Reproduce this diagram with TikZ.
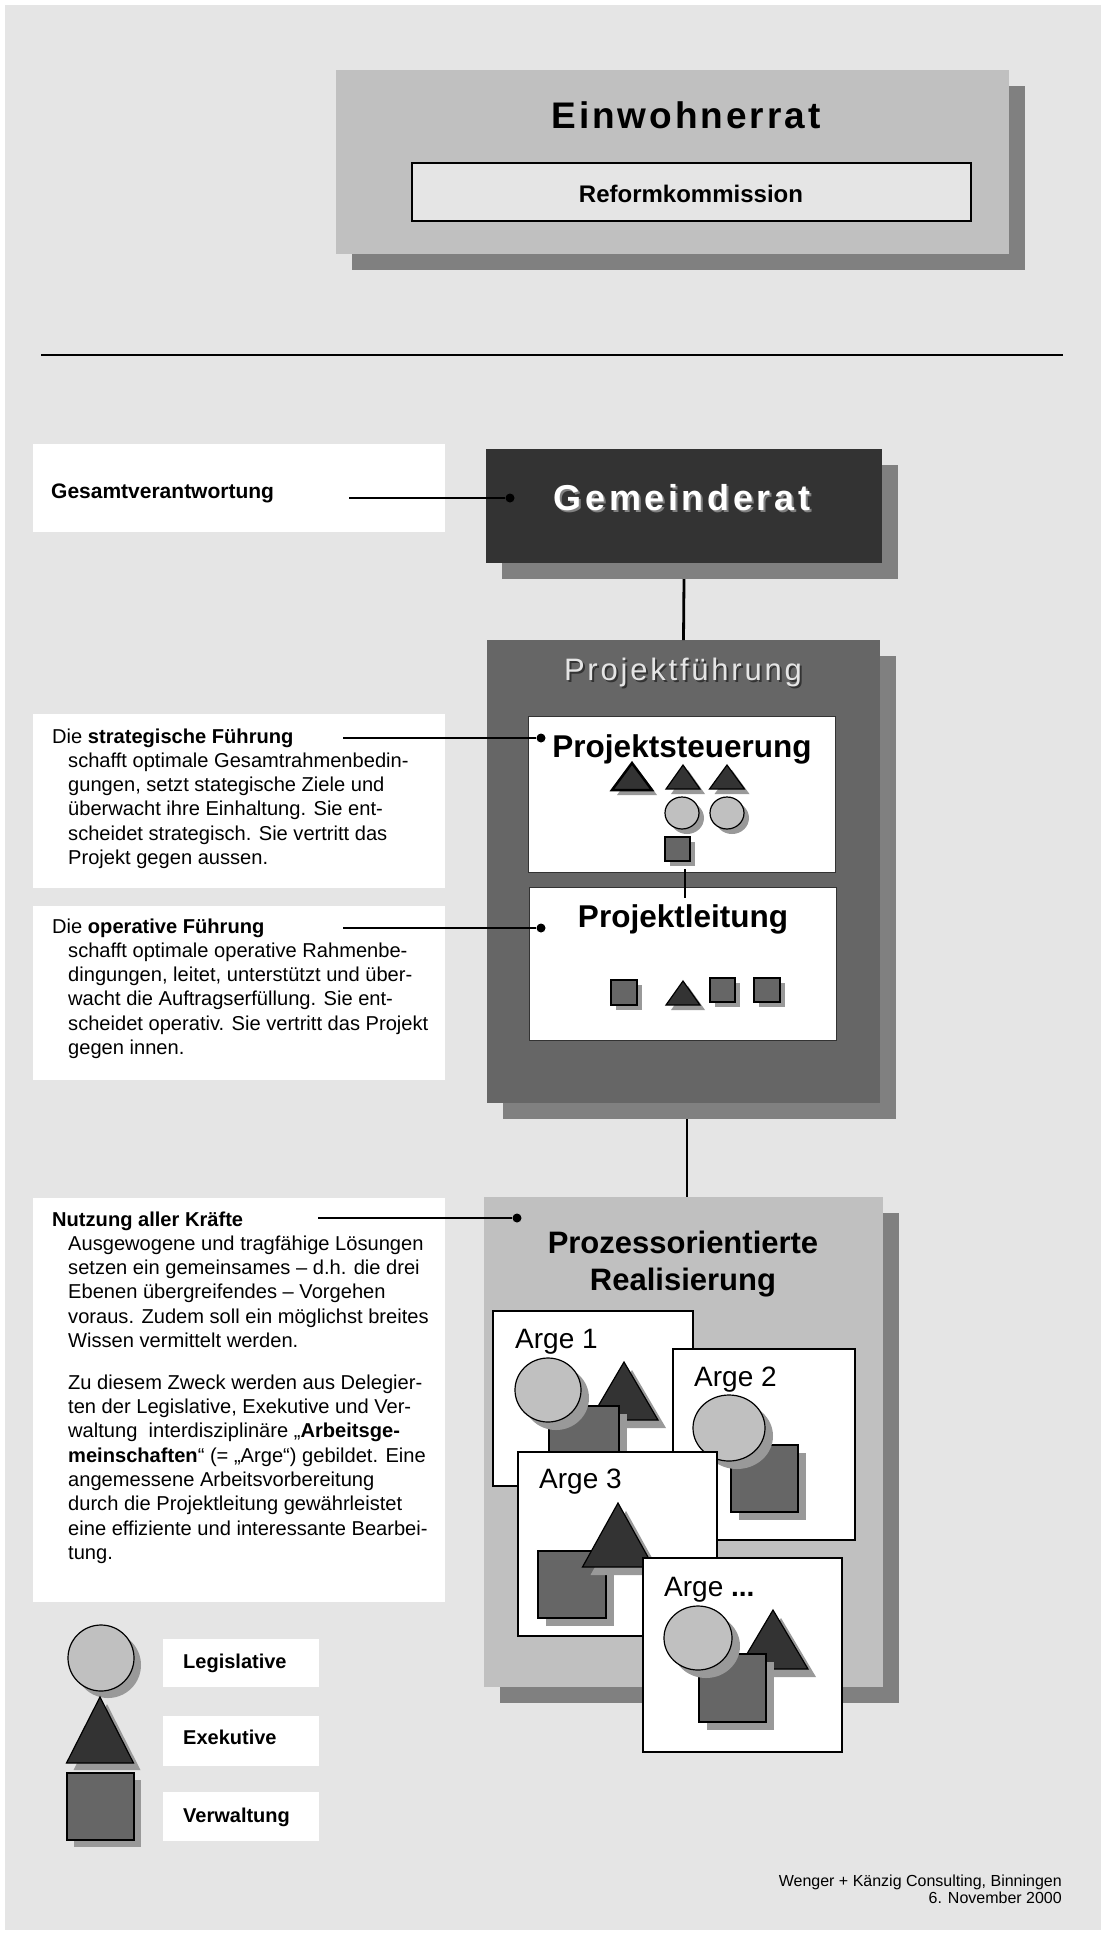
\documentclass[tikz,border=0pt]{standalone}
\usepackage{fontspec}
\setmainfont{Liberation Sans}
\usetikzlibrary{calc,shadows}

\definecolor{pagegray}{gray}{0.9}
\definecolor{boxshadow}{gray}{0.5}
\definecolor{lightbox}{gray}{0.753}
\definecolor{midbox}{gray}{0.4}
\definecolor{darkbox}{gray}{0.2}
\definecolor{iconshadow}{gray}{0.6}

\newcommand{\versatz}{6}
% Legislative
\newcommand{\kreis}[4]{%
  \fill[iconshadow] (#1+\versatz,#2+\versatz) ellipse [x radius=#3pt, y radius=#4pt];
  \draw[icon line,fill=lightbox] (#1,#2) ellipse [x radius=#3pt, y radius=#4pt];}
% Exekutive (Spitze, halbe Breite, Hoehe)
\newcommand{\dreieck}[4]{%
  \fill[iconshadow] (#1+\versatz,#2+\versatz) -- ++(#3,#4) -- ++(-2*#3,0) -- cycle;
  \draw[icon line,fill=darkbox] (#1,#2) -- ++(#3,#4) -- ++(-2*#3,0) -- cycle;}
% Verwaltung
\newcommand{\quadrat}[4]{%
  \fill[iconshadow] (#1+\versatz,#2+\versatz) rectangle (#3+\versatz,#4+\versatz);
  \draw[icon line,fill=midbox] (#1,#2) rectangle (#3,#4);}

\begin{document}
\begin{tikzpicture}[x=1pt,y=-1pt,
    plain box/.style={inner sep=0pt,outer sep=0pt},
    shadowed/.style={drop shadow={shadow xshift=16pt,shadow yshift=-16pt,fill=boxshadow,opacity=1}},
    info box/.style={plain box,fill=white,minimum width=412pt},
    label box/.style={plain box,fill=white,minimum width=156pt},
    arge box/.style={plain box,fill=white,draw=black,line width=1.5pt},
    inner box/.style={plain box,fill=white,draw=darkbox,line width=1pt,minimum width=307pt},
    info text/.style={anchor=base west,inner sep=0pt,font=\fontsize{20.1}{24.3}\selectfont},
    arge text/.style={anchor=base west,inner sep=0pt,font=\fontsize{28}{34}\selectfont},
    heading/.style={anchor=base,inner sep=0pt},
    leader dot/.style={circle,fill=black,inner sep=0pt,minimum size=9pt},
    leader/.style={line width=1.3pt},
    link/.style={line width=2.8pt},
    icon line/.style={draw=black,line width=1.2pt}]

	\useasboundingbox (0,0) rectangle (1107,1936);
	\fill[white] (0,0) rectangle (1107,1936);
	\fill[pagegray] (5,5) rectangle (1101,1930);

	% Einwohnerrat
	\node[plain box,shadowed,fill=lightbox,minimum width=673pt,minimum height=184pt] (einwohnerrat) at (672.5,162) {};
	\node[plain box,fill=pagegray,draw=black,line width=1.5pt,minimum width=559pt,minimum height=58pt] (reform) at (691.5,192) {};
	\node[heading,font=\fontsize{37}{44}\selectfont\bfseries\addfontfeatures{LetterSpace=8}] (einwohnerratTitle) at (686,128) {Einwohnerrat};
	\node[heading,font=\fontsize{24}{29}\selectfont\bfseries] (reformTitle) at (691,202) {Reformkommission};

	\coordinate (sepL) at (41,355);
	\coordinate (sepR) at (1063,355);
	\draw[line width=1.5pt] (sepL) -- (sepR);

	% Gemeinderat
	\node[info box,minimum height=88pt] (gesamt) at (239,488) {};
	\node[info text,font=\fontsize{21}{25}\selectfont\bfseries] (gesamtText) at (51,498) {Gesamtverantwortung};
	\node[plain box,shadowed,fill=darkbox,minimum width=396pt,minimum height=114pt] (gemeinderat) at (684,506) {};
	\node[heading,text=boxshadow,font=\fontsize{36}{43}\selectfont\bfseries\addfontfeatures{LetterSpace=10}] (gemeinderatShadow) at (684,512) {Gemeinderat};
	\node[heading,text=white,font=\fontsize{36}{43}\selectfont\bfseries\addfontfeatures{LetterSpace=10}] (gemeinderatTitle) at (682,510) {Gemeinderat};
	\coordinate (gesamtStart) at (349,498);
	\node[leader dot] (gesamtDot) at (510,498) {};
	\draw[leader] (gesamtStart) -- (gesamtDot);

	% Projektfuehrung
	\node[plain box,shadowed,fill=midbox,minimum width=393pt,minimum height=463pt] (fuehrung) at (683.5,871.5) {};
	\node[heading,text=darkbox,font=\fontsize{31}{37}\selectfont\addfontfeatures{LetterSpace=9}] (fuehrungShadow) at (685,682) {Projektführung};
	\node[heading,text=pagegray,font=\fontsize{31}{37}\selectfont\addfontfeatures{LetterSpace=9}] (fuehrungTitle) at (683,680) {Projektführung};
	\draw[link] ($(gemeinderat.south)+(0,16)$) -- (fuehrung.north);

	\node[inner box,minimum height=156pt] (steuerung) at (681.5,794) {};
	\node[heading,font=\fontsize{31.5}{37}\selectfont\bfseries] (steuerungTitle) at (682,757) {Projektsteuerung};
	\node[inner box,minimum height=153pt] (leitung) at (682.5,963.5) {};
	\node[heading,font=\fontsize{31.5}{37}\selectfont\bfseries] (leitungTitle) at (683,927) {Projektleitung};
	\draw[link] ($(steuerung.south)+(3.5,-3)$) -- ($(leitung.north)+(2.5,11)$);

	\renewcommand{\versatz}{5}
	\begin{scope}[icon line/.append style={line width=2.5pt}]
		\dreieck{632}{763}{20}{27}
	\end{scope}
	\dreieck{683}{765}{17}{24}
	\dreieck{727}{765}{17.5}{24}
	\kreis{682}{813}{17}{16}
	\kreis{727}{813}{17}{16}
	\quadrat{665}{837}{690}{861}
	\quadrat{611}{980}{637}{1005}
	\dreieck{683}{981}{17}{24}
	\quadrat{710}{978}{735}{1002}
	\quadrat{754}{978}{780}{1002}

	% Fuehrung links
	\node[info box,minimum height=174pt] (strategisch) at (239,801) {};
	\node[info text] (strategischText) at (52,743) {\parbox[t]{400pt}{\raggedright\leftskip=16pt\hspace*{-16pt}Die \textbf{strategische Führung}\\
		schafft optimale Gesamtrahmenbedin-\\
		gungen, setzt stategische Ziele und\\
		überwacht ihre Einhaltung. Sie ent-\\
		scheidet strategisch. Sie vertritt das\\
		Projekt gegen aussen.}};
	\coordinate (strategischStart) at (343,738);
	\node[leader dot] (steuerungDot) at (541,738) {};
	\draw[leader] (strategischStart) -- (steuerungDot);

	\node[info box,minimum height=174pt] (operativ) at (239,993) {};
	\node[info text] (operativText) at (52,933) {\parbox[t]{400pt}{\raggedright\leftskip=16pt\hspace*{-16pt}Die \textbf{operative Führung}\\
		schafft optimale operative Rahmenbe-\\
		dingungen, leitet, unterstützt und über-\\
		wacht die Auftragserfüllung. Sie ent-\\
		scheidet operativ. Sie vertritt das Projekt\\
		gegen innen.}};
	\coordinate (operativStart) at (343,928);
	\node[leader dot] (leitungDot) at (541,928) {};
	\draw[leader] (operativStart) -- (leitungDot);

	% Realisierung
	\node[plain box,shadowed,fill=lightbox,minimum width=399pt,minimum height=490pt] (prozess) at (683.5,1442) {};
	\draw[link] ($(fuehrung.south)+(3.5,16)$) -- ($(prozess.north)+(3.5,0)$);
	\node[heading,font=\fontsize{31}{37}\selectfont\bfseries] (prozessTitle) at (683,1253) {Prozessorientierte};
	\node[heading,font=\fontsize{31}{37}\selectfont\bfseries] (prozessTitleB) at (683,1290) {Realisierung};

	\renewcommand{\versatz}{8}
	\node[arge box,minimum width=200pt,minimum height=175pt] (arge1) at (593,1398.5) {};
	\node[arge text] (arge1Text) at (515,1348) {Arge 1};
	\dreieck{624}{1362}{34}{58}
	\quadrat{549}{1406}{619}{1476}
	\kreis{548}{1390}{33}{32}

	\node[arge box,minimum width=182pt,minimum height=191pt] (arge2) at (764,1444.5) {};
	\node[arge text] (arge2Text) at (694,1386) {Arge 2};
	\quadrat{731}{1445}{798}{1512}
	\kreis{729}{1428}{36}{33}

	\node[arge box,minimum width=199pt,minimum height=184pt] (arge3) at (617.5,1544) {};
	\node[arge text] (arge3Text) at (539,1488) {Arge 3};
	\quadrat{538}{1551}{606}{1618}
	\dreieck{618}{1503}{35.5}{64}

	\node[arge box,minimum width=199pt,minimum height=194pt] (argeN) at (742.5,1655) {};
	\node[arge text] (argeNText) at (664,1596) {Arge \textbf{...}};
	\dreieck{773}{1610}{35}{59}
	\quadrat{699}{1654}{766}{1722}
	\kreis{698}{1638}{34}{32}

	\node[info box,minimum height=404pt] (nutzung) at (239,1400) {};
	\node[info text] (nutzungText) at (52,1226) {\parbox[t]{400pt}{\raggedright\leftskip=16pt\hspace*{-16pt}\textbf{Nutzung aller Kräfte}\\
		Ausgewogene und tragfähige Lösungen\\
		setzen ein gemeinsames – d.h. die drei\\
		Ebenen übergreifendes – Vorgehen\\
		voraus. Zudem soll ein möglichst breites\\
		Wissen vermittelt werden.\\[17.5pt]
		Zu diesem Zweck werden aus Delegier-\\
		ten der Legislative, Exekutive und Ver-\\
		waltung\ \ interdisziplinäre „\textbf{Arbeitsge-}\\
		\textbf{meinschaften}“ (= „Arge“) gebildet. Eine\\
		angemessene Arbeitsvorbereitung\\
		durch die Projektleitung gewährleistet\\
		eine effiziente und interessante Bearbei-\\
		tung.}};
	\coordinate (nutzungStart) at (318,1218);
	\node[leader dot] (prozessDot) at (517,1218) {};
	\draw[leader] (nutzungStart) -- (prozessDot);

	% Legende
	\renewcommand{\versatz}{7}
	\kreis{101}{1658}{33}{33}
	\dreieck{100}{1697}{33.5}{66}
	\quadrat{67}{1773}{134}{1840}
	\node[label box,minimum height=48pt] (legislative) at (241,1663) {};
	\node[info text,font=\fontsize{20}{24}\selectfont\bfseries] (legislativeText) at (183,1668) {Legislative};
	\node[label box,minimum height=50pt] (exekutive) at (241,1741) {};
	\node[info text,font=\fontsize{20}{24}\selectfont\bfseries] (exekutiveText) at (183,1744) {Exekutive};
	\node[label box,minimum height=49pt] (verwaltung) at (241,1816.5) {};
	\node[info text,font=\fontsize{20}{24}\selectfont\bfseries] (verwaltungText) at (183,1822) {Verwaltung};

	\node[anchor=base east,inner sep=0pt,font=\fontsize{16}{17}\selectfont] (footerA) at (1062,1886) {Wenger + Känzig Consulting, Binningen};
	\node[anchor=base east,inner sep=0pt,font=\fontsize{16}{17}\selectfont] (footerB) at (1062,1903) {6. November 2000};

\end{tikzpicture}
\end{document}
